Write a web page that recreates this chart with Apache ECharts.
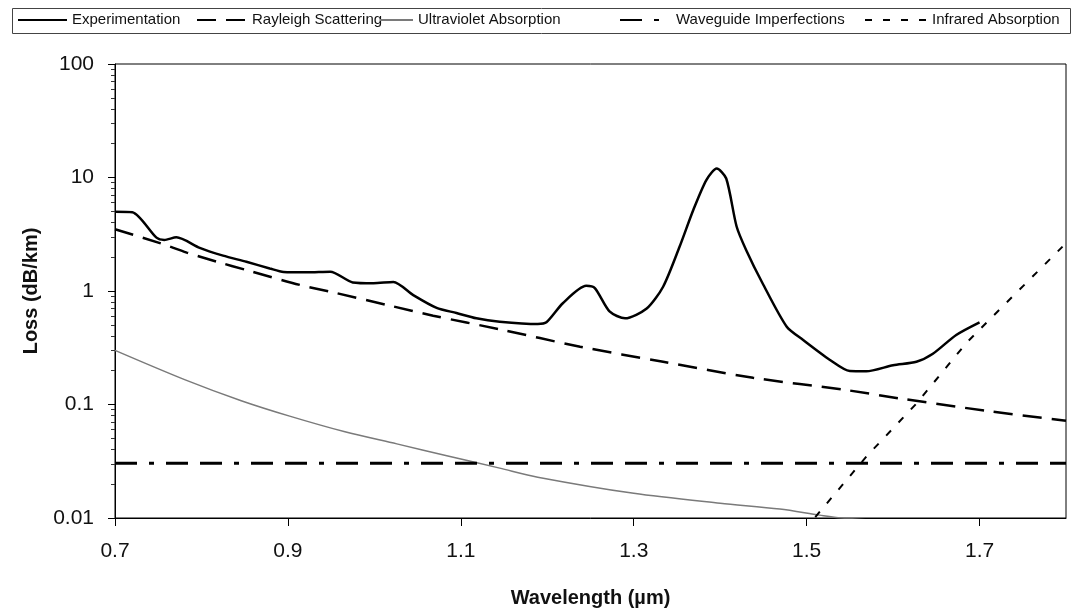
<!DOCTYPE html>
<html><head><meta charset="utf-8">
<script src="https://cdn.jsdelivr.net/npm/echarts@6/dist/echarts.min.js"></script>
<style>html,body{margin:0;padding:0;background:#fff}#c{width:1076px;height:611px}</style>
</head><body><div id="c"></div>
<script>
// ---- data ----
const seriesNames = ['Experimentation','Rayleigh Scattering','Ultraviolet Absorption','Waveguide Imperfections','Infrared Absorption'];
const xTickValues = [0.7, 0.9, 1.1, 1.3, 1.5, 1.7];
const yMinorTicks = [0.02,0.03,0.04,0.05,0.06,0.07,0.08,0.09,
  0.2,0.3,0.4,0.5,0.6,0.7,0.8,0.9, 2,3,4,5,6,7,8,9, 20,30,40,50,60,70,80,90];

const expX = [0.700,0.720,0.748,0.757,0.771,0.798,0.825,0.852,0.879,0.895,0.922,0.949,0.975,0.999,1.022,1.045,1.072,1.095,1.118,1.145,1.189,1.199,1.218,1.245,1.255,1.272,1.290,1.315,1.334,1.353,1.369,1.384,1.396,1.407,1.419,1.430,1.449,1.477,1.496,1.527,1.550,1.569,1.600,1.627,1.646,1.673,1.700];
const expY = [5.0,4.95,2.95,2.82,2.97,2.40,2.05,1.81,1.58,1.47,1.46,1.48,1.19,1.17,1.20,0.92,0.71,0.64,0.575,0.537,0.512,0.53,0.78,1.11,1.06,0.66,0.574,0.70,1.09,2.45,5.2,9.5,12.0,9.8,3.7,2.3,1.17,0.484,0.37,0.247,0.197,0.196,0.222,0.238,0.28,0.41,0.53];

const rayX = [0.700,0.752,0.783,0.818,0.852,0.914,0.952,1.018,1.068,1.145,1.238,1.334,1.438,1.546,1.608,1.708,1.800];
const rayY = [3.5,2.64,2.18,1.81,1.53,1.13,0.975,0.743,0.606,0.46,0.323,0.238,0.172,0.134,0.113,0.088,0.072];

const uvX = [0.700,0.782,0.846,0.902,0.966,1.026,1.085,1.145,1.189,1.300,1.400,1.469,1.515,1.540,1.650,1.800];
const uvY = [0.30,0.164,0.108,0.079,0.0575,0.045,0.0352,0.0275,0.0229,0.0165,0.0135,0.0120,0.0106,0.0100,0.0088,0.0075];

const wgX = [0.70, 1.80];
const wgY = [0.0303, 0.0303];

const irX = [1.510,1.569,1.627,1.685,1.738,1.796];
const irY = [0.0102,0.0347,0.102,0.35,0.89,2.46];

// ---- chart ----
const FONT = '"Liberation Sans", Arial, sans-serif';
function pairs(xs, ys){ return xs.map((x,i)=>[x, ys[i]]); }

const styles = [
  {color:'#000', width:2.5, type:'solid', smooth:0.25},
  {color:'#000', width:2.5, type:[19,10], smooth:0.3},
  {color:'#7a7a7a', width:1.5, type:'solid', smooth:0.3},
  {color:'#000', width:3, type:[22,12,5,12,22,12], smooth:false},
  {color:'#000', width:2, type:[7,11], smooth:false}
];
const datas = [pairs(expX,expY), pairs(rayX,rayY), pairs(uvX,uvY), pairs(wgX,wgY), pairs(irX,irY)];

const series = seriesNames.map((n,i)=>({
  name:n, type:'line', data:datas[i], showSymbol:false, symbol:'circle',
  smooth:styles[i].smooth, clip:true,
  itemStyle:{color:styles[i].color},
  lineStyle:{color:styles[i].color, width:styles[i].width, type:styles[i].type}
}));

const legendLefts = [17, 196, 379, 619, 864];
const legendWidths = [49, 50, 33, 51, 62];
const legends = seriesNames.map((n,i)=>({
  data:[n], left:legendLefts[i], top:12, padding:0, itemWidth:legendWidths[i], itemHeight:14,
  selectedMode:false,
  itemStyle:{opacity:0},
  textStyle:{fontFamily:FONT, fontSize:15, color:'#111', lineHeight:16}
}));

const chart = echarts.init(document.getElementById('c'), null, {renderer:'canvas'});
chart.setOption({
  animation:false,
  backgroundColor:'#fff',
  legend: legends,
  graphic:[{type:'rect', shape:{x:12.5, y:8.5, width:1058, height:25}, style:{fill:'none', stroke:'#444', lineWidth:1}, silent:true}],
  grid:{left:115, right:10, top:64, bottom:93, containLabel:false, outerBoundsMode:'none', show:true, borderColor:'#000', borderWidth:1, backgroundColor:'transparent'},
  xAxis:{
    type:'value', min:0.7, max:1.8, interval:0.1,
    name:'Wavelength (µm)', nameLocation:'middle', nameGap:70,
    nameTextStyle:{fontFamily:FONT, fontSize:20, fontWeight:'bold', color:'#111'},
    axisLine:{show:true, onZero:false, lineStyle:{color:'#000', width:1}},
    axisTick:{show:true, length:8, customValues:xTickValues, lineStyle:{color:'#000'}},
    axisLabel:{customValues:xTickValues, margin:23, fontFamily:FONT, fontSize:21, color:'#111', formatter:v=>Number(v).toFixed(1)},
    splitLine:{show:false}
  },
  yAxis:[{
    type:'log', logBase:10, min:0.01, max:100, position:'left',
    name:'Loss (dB/km)', nameLocation:'middle', nameGap:74, nameRotate:90,
    nameTextStyle:{fontFamily:FONT, fontSize:20, fontWeight:'bold', color:'#111'},
    axisLine:{show:true, lineStyle:{color:'#000', width:1}},
    axisTick:{show:true, length:7, lineStyle:{color:'#000'}},
    axisLabel:{margin:21, fontFamily:FONT, fontSize:21, color:'#111', formatter:v=>String(Number(Number(v).toPrecision(1)))},
    splitLine:{show:false}, minorTick:{show:false}
  },{
    type:'log', logBase:10, min:0.01, max:100, position:'left', offset:0,
    axisLine:{show:false},
    axisTick:{show:true, length:4, customValues:yMinorTicks, lineStyle:{color:'#333'}},
    axisLabel:{show:false}, splitLine:{show:false}
  }],
  series: series
});
</script></body></html>
